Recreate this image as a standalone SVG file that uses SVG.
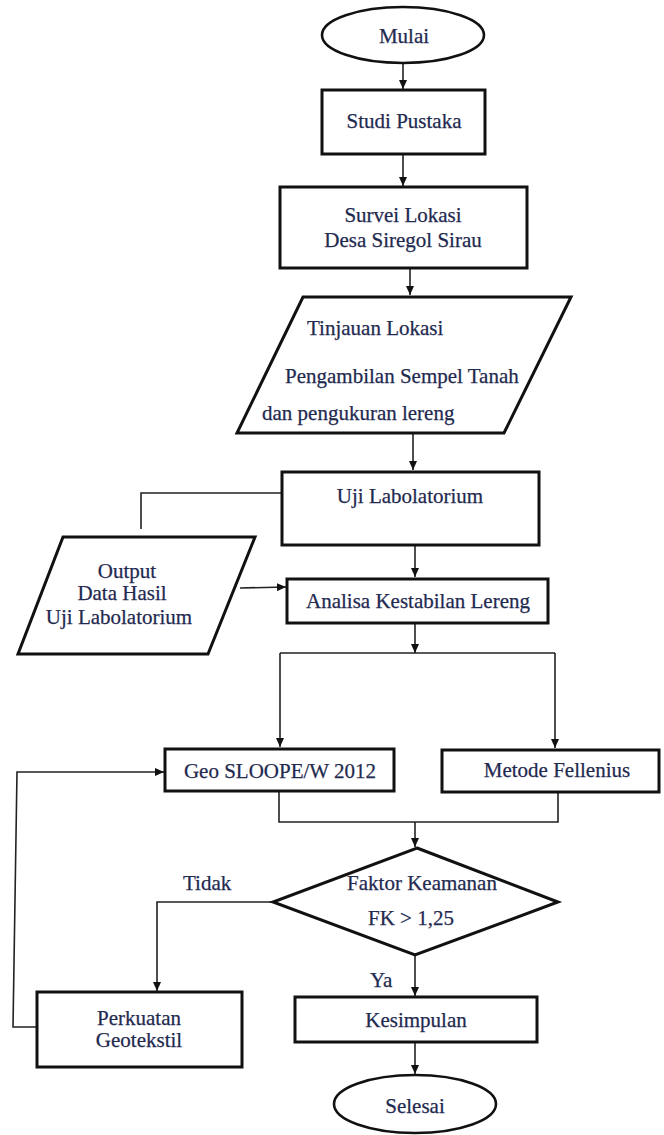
<svg xmlns="http://www.w3.org/2000/svg" width="664" height="1135" viewBox="0 0 664 1135">
<style>
.box{fill:#fff;stroke:#111;stroke-width:3;stroke-linejoin:miter}
.term{fill:#fff;stroke:#111;stroke-width:2.6}
.con{fill:none;stroke:#222;stroke-width:1.6}
.arr{marker-end:url(#ah)}
text{font-family:'Liberation Serif','Times New Roman','DejaVu Serif',serif;font-size:21px;fill:#1f2a50;stroke:#1f2a50;stroke-width:0.25}
.c{text-anchor:middle}
</style>
<defs>
<marker id="ah" markerUnits="userSpaceOnUse" markerWidth="9" markerHeight="8" refX="9" refY="4" orient="auto">
<path d="M0,0 L9,4 L0,8 z" fill="#111"/>
</marker>
</defs>
<rect width="664" height="1135" fill="#fff"/>
<g id="connectors">
<line class="con arr" x1="403" y1="63" x2="403" y2="89"/>
<line class="con arr" x1="403" y1="154" x2="403" y2="186"/>
<line class="con arr" x1="410" y1="269" x2="410" y2="295"/>
<line class="con arr" x1="413" y1="433" x2="413" y2="470"/>
<polyline class="con" points="282,493 141,493 141,529"/>
<line class="con arr" x1="415" y1="545" x2="415" y2="577"/>
<line class="con arr" x1="240" y1="588" x2="286" y2="587"/>
<line class="con arr" x1="415" y1="623" x2="415" y2="653"/>
<line class="con" x1="280" y1="653" x2="555" y2="653"/>
<line class="con arr" x1="280" y1="653" x2="280" y2="747"/>
<line class="con arr" x1="555" y1="653" x2="555" y2="748"/>
<polyline class="con" points="279,791 279,822 558,822 558,792"/>
<line class="con arr" x1="415" y1="822" x2="415" y2="847"/>
<polyline class="con arr" points="273,902 157,902 157,991"/>
<line class="con arr" x1="415" y1="955" x2="415" y2="996"/>
<line class="con arr" x1="415" y1="1042" x2="415" y2="1074"/>
<polyline class="con arr" points="37,1027 13,1027 17,772 164,772"/>
</g>
<g id="mulai">
<ellipse class="term" cx="403" cy="35" rx="81" ry="28"/>
<text class="c" x="404" y="43">Mulai</text>
</g>
<g id="studi-pustaka">
<rect class="box" x="322" y="90" width="163" height="64"/>
<text class="c" x="404" y="128">Studi Pustaka</text>
</g>
<g id="survei-lokasi">
<rect class="box" x="280" y="187" width="247" height="81"/>
<text class="c" x="403" y="222">Survei Lokasi</text>
<text class="c" x="403" y="247">Desa Siregol Sirau</text>
</g>
<g id="tinjauan-lokasi">
<polygon class="box" points="303,297 571,297 504,433 237,433"/>
<text x="307" y="335">Tinjauan Lokasi</text>
<text x="285" y="383">Pengambilan Sempel Tanah</text>
<text x="262" y="420">dan pengukuran lereng</text>
</g>
<g id="uji-labolatorium">
<rect class="box" x="282" y="472" width="257" height="73"/>
<text class="c" x="410" y="503">Uji Labolatorium</text>
</g>
<g id="output-data">
<polygon class="box" points="63,537 255,537 208,654 18,654"/>
<text class="c" x="127" y="578">Output</text>
<text class="c" x="122" y="600">Data Hasil</text>
<text class="c" x="119" y="624">Uji Labolatorium</text>
</g>
<g id="analisa">
<rect class="box" x="287" y="579" width="261" height="44"/>
<text class="c" x="418" y="608">Analisa Kestabilan Lereng</text>
</g>
<g id="geo-slope">
<rect class="box" x="165" y="749" width="229" height="42"/>
<text class="c" x="280" y="778">Geo SLOOPE/W 2012</text>
</g>
<g id="metode-fellenius">
<rect class="box" x="442" y="750" width="217" height="42"/>
<text class="c" x="557" y="777">Metode Fellenius</text>
</g>
<g id="faktor-keamanan">
<polygon class="box" points="417,848 558,902 415,955 273,902"/>
<text class="c" x="422" y="890">Faktor Keamanan</text>
<text class="c" x="411" y="925">FK &gt; 1,25</text>
</g>
<g id="label-tidak">
<text x="183" y="890">Tidak</text>
</g>
<g id="label-ya">
<text x="370" y="987">Ya</text>
</g>
<g id="perkuatan">
<rect class="box" x="37" y="992" width="205" height="75"/>
<text class="c" x="139" y="1025">Perkuatan</text>
<text class="c" x="139" y="1047">Geotekstil</text>
</g>
<g id="kesimpulan">
<rect class="box" x="295" y="997" width="242" height="45"/>
<text class="c" x="416" y="1027">Kesimpulan</text>
</g>
<g id="selesai">
<ellipse class="term" cx="415" cy="1104" rx="81" ry="29"/>
<text class="c" x="415" y="1113">Selesai</text>
</g>
</svg>
